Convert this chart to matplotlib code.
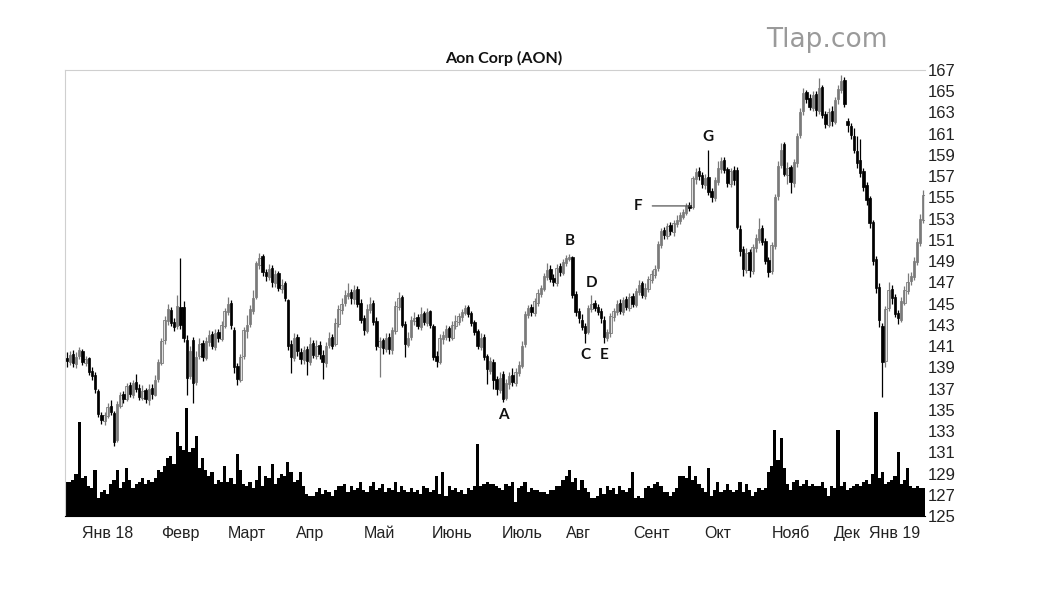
import numpy as np
import matplotlib
matplotlib.use('Agg')
import matplotlib.pyplot as plt

plt.rcParams['font.family'] = ['Liberation Sans', 'DejaVu Sans']

# daily AON prices, mid-Dec 2017 .. mid-Jan 2019
opens = [
    139.9, 139.5, 140.3, 139.3, 140.1, 140.5, 139.4, 139.9, 138.7, 138.3,
    136.8, 134.5, 133.9, 134.4, 135.4, 134.7, 132.2, 135.4, 136.5, 136.0,
    137.3, 136.4, 137.6, 137.1, 136.1, 136.9, 135.9, 137.1, 136.4, 137.9,
    139.4, 141.6, 143.4, 144.4, 143.3, 142.9, 144.7, 144.7, 141.6, 138.2,
    141.6, 137.6, 140.1, 141.3, 139.9, 141.4, 142.1, 140.9, 142.3, 141.7,
    142.9, 144.2, 145.1, 142.5, 139.1, 137.8, 140.1, 142.4, 143.1, 144.3,
    145.6, 148.6, 149.5, 148.0, 147.5, 148.4, 146.9, 147.9, 146.4, 146.9,
    145.3, 141.2, 139.9, 141.9, 140.4, 139.7, 140.7, 139.5, 141.3, 140.1,
    141.1, 140.2, 139.4, 141.1, 141.9, 141.2, 143.1, 144.4, 145.1, 145.7,
    146.1, 145.4, 146.4, 145.1, 143.6, 142.4, 144.4, 145.1, 143.4, 140.9,
    141.6, 140.7, 141.9, 140.6, 142.4, 144.7, 145.6, 143.1, 141.1, 141.9,
    143.4, 143.7, 142.8, 144.1, 143.2, 144.3, 142.9, 140.1, 139.5, 141.7,
    141.9, 142.7, 141.8, 142.9, 143.3, 143.7, 144.1, 144.7, 144.1, 143.3,
    142.4, 140.9, 141.9, 140.1, 138.7, 139.5, 137.9, 136.9, 138.4, 136.1,
    137.4, 138.3, 137.5, 138.5, 139.1, 141.2, 143.9, 144.7, 144.1, 145.1,
    145.9, 146.4, 147.5, 148.3, 147.4, 146.9, 148.5, 147.9, 148.8, 149.2,
    149.4, 145.9, 144.3, 143.5, 142.9, 142.3, 144.5, 145.1, 144.7, 144.3,
    143.5, 141.8, 142.2, 143.7, 144.2, 145.1, 144.2, 145.4, 144.6, 145.7,
    144.9, 146.1, 146.9, 145.7, 146.4, 147.2, 147.7, 148.4, 150.5, 151.9,
    151.4, 152.4, 151.7, 152.5, 152.8, 153.2, 153.5, 154.3, 154.1, 156.7,
    157.5, 157.1, 156.2, 156.9, 155.6, 154.9, 156.5, 157.7, 158.5, 157.7,
    156.3, 157.6, 157.6, 152.0, 150.1, 148.2, 149.9, 148.1, 150.2, 151.0,
    152.1, 150.9, 149.1, 148.1, 150.4, 155.1, 158.1, 160.0, 157.1, 157.9,
    156.4, 158.2, 160.9, 163.1, 164.9, 164.4, 163.4, 164.7, 163.1, 165.4,
    162.9, 161.8, 163.1, 162.1, 164.3, 165.1, 166.1, 162.2, 161.7, 160.8,
    159.4, 158.5, 157.5, 156.2, 154.9, 152.7, 149.2, 146.6, 142.9, 139.6,
    144.6, 146.4, 145.6, 144.1, 143.5, 145.1, 146.2, 147.1, 147.5, 148.9,
    150.7, 152.9,
]
highs = [
    140.4, 140.5, 140.6, 140.4, 140.9, 140.7, 140.1, 140.0, 139.0, 138.6,
    137.0, 134.8, 134.8, 135.6, 135.9, 134.9, 135.8, 136.7, 136.8, 137.5,
    137.6, 137.8, 138.4, 137.4, 137.3, 137.1, 137.4, 137.4, 138.3, 139.8,
    141.8, 143.8, 145.0, 144.7, 143.6, 145.8, 149.3, 145.2, 142.0, 141.0,
    141.9, 140.5, 141.8, 141.6, 141.9, 142.5, 142.4, 142.6, 142.6, 143.4,
    144.6, 145.6, 145.3, 142.8, 139.4, 140.3, 142.8, 143.9, 144.9, 146.3,
    149.0, 149.8, 149.7, 148.3, 148.7, 148.6, 148.2, 148.1, 147.3, 147.1,
    145.4, 141.6, 142.2, 142.1, 140.8, 141.0, 141.0, 141.9, 141.6, 141.6,
    141.5, 140.6, 141.4, 142.3, 142.1, 143.6, 144.9, 145.5, 146.3, 146.9,
    146.4, 146.8, 146.7, 145.4, 143.9, 145.0, 145.6, 145.3, 143.7, 141.9,
    141.8, 142.2, 142.2, 142.8, 145.2, 146.1, 145.8, 143.4, 142.3, 143.8,
    144.2, 144.0, 144.7, 144.3, 144.6, 144.4, 143.1, 140.5, 142.1, 142.4,
    143.0, 142.9, 143.4, 143.9, 144.1, 144.5, 144.9, 144.9, 144.3, 143.5,
    142.6, 142.2, 142.1, 140.3, 140.0, 139.8, 138.2, 138.6, 138.7, 137.9,
    138.6, 138.9, 138.9, 139.6, 141.5, 144.3, 144.9, 145.0, 145.5, 146.4,
    146.8, 147.9, 148.8, 148.6, 147.8, 148.7, 148.8, 149.2, 149.6, 149.7,
    149.5, 146.2, 144.6, 144.0, 143.2, 144.9, 145.8, 145.3, 145.0, 144.6,
    143.8, 142.6, 144.1, 144.6, 145.3, 145.4, 145.6, 145.7, 146.0, 146.0,
    146.5, 147.2, 147.1, 146.9, 147.6, 148.2, 148.6, 150.9, 152.1, 152.2,
    152.6, 152.7, 152.9, 153.3, 153.6, 153.9, 154.5, 154.6, 157.0, 157.8,
    157.9, 157.4, 157.2, 159.5, 155.9, 156.9, 158.4, 158.8, 158.8, 157.9,
    157.8, 158.0, 157.9, 152.4, 150.4, 150.2, 150.1, 150.6, 151.6, 153.1,
    152.4, 151.2, 149.4, 150.8, 155.3, 158.4, 160.1, 160.2, 158.3, 158.1,
    158.6, 161.1, 163.4, 165.3, 165.1, 164.7, 165.0, 165.0, 166.2, 165.6,
    163.1, 163.4, 163.6, 164.5, 165.6, 166.5, 166.3, 162.5, 162.0, 161.5,
    160.8, 160.5, 157.8, 156.5, 155.1, 152.9, 149.5, 146.9, 143.2, 144.8,
    147.0, 146.8, 145.9, 144.4, 145.6, 146.7, 147.9, 148.0, 149.4, 151.2,
    153.4, 155.7,
]
lows = [
    139.0, 139.2, 139.0, 138.9, 139.8, 139.2, 139.1, 138.3, 137.8, 136.6,
    134.3, 133.7, 133.6, 134.2, 134.5, 131.6, 132.0, 135.2, 135.6, 135.8,
    136.2, 136.1, 136.7, 135.9, 135.9, 135.6, 135.5, 136.0, 136.3, 137.6,
    139.2, 141.2, 143.0, 142.9, 142.4, 142.6, 142.6, 141.4, 136.4, 137.9,
    135.6, 137.3, 139.8, 139.6, 139.7, 141.0, 140.7, 140.6, 141.4, 141.5,
    142.7, 143.9, 142.6, 138.5, 137.3, 137.6, 139.8, 141.8, 142.8, 144.0,
    145.4, 148.3, 147.6, 147.1, 147.2, 146.6, 146.6, 146.2, 146.0, 145.2,
    140.6, 138.5, 139.6, 140.1, 139.3, 139.3, 138.3, 139.2, 139.9, 139.8,
    139.8, 137.9, 139.0, 140.8, 140.7, 141.0, 142.8, 144.0, 144.8, 145.4,
    145.0, 145.0, 144.7, 143.2, 142.0, 142.2, 144.1, 143.0, 140.6, 138.1,
    140.3, 140.4, 140.3, 140.3, 142.1, 144.4, 142.8, 140.0, 140.9, 141.6,
    143.0, 142.6, 142.5, 143.0, 142.9, 142.7, 139.7, 139.0, 139.3, 141.2,
    141.6, 141.5, 141.6, 142.6, 143.0, 143.4, 143.9, 143.7, 142.9, 142.0,
    140.7, 140.6, 139.7, 137.4, 138.4, 137.0, 136.4, 136.6, 135.7, 135.9,
    137.0, 137.2, 137.2, 138.2, 138.9, 140.9, 143.6, 143.8, 143.8, 144.8,
    145.6, 146.2, 147.2, 147.0, 146.7, 146.7, 147.6, 147.7, 148.5, 149.0,
    145.5, 143.8, 143.2, 142.5, 141.3, 142.1, 144.2, 144.3, 143.9, 143.2,
    141.3, 141.5, 141.9, 143.4, 143.9, 144.0, 143.9, 144.4, 144.3, 144.7,
    144.7, 145.8, 145.5, 145.4, 146.1, 146.9, 147.4, 148.1, 150.2, 151.1,
    151.1, 151.5, 151.4, 152.2, 152.5, 153.0, 153.3, 153.7, 153.9, 156.3,
    156.6, 155.9, 155.8, 155.2, 154.6, 154.7, 156.2, 157.3, 157.3, 156.0,
    156.0, 156.2, 152.0, 149.5, 147.6, 147.9, 147.5, 147.8, 149.9, 150.7,
    150.5, 148.7, 147.5, 147.8, 150.1, 154.8, 157.8, 157.0, 156.3, 155.4,
    156.0, 157.9, 160.6, 162.8, 163.9, 163.2, 163.1, 162.7, 162.9, 162.5,
    161.5, 161.6, 161.7, 161.9, 163.8, 164.8, 163.5, 161.2, 160.5, 159.2,
    157.8, 156.9, 155.6, 154.3, 152.1, 148.6, 146.0, 142.8, 136.2, 139.0,
    144.3, 145.0, 143.7, 143.1, 143.3, 144.9, 145.9, 146.8, 147.2, 148.6,
    150.4, 152.6,
]
closes = [
    139.6, 140.2, 139.4, 140.0, 140.6, 139.5, 139.8, 138.6, 138.2, 137.0,
    134.6, 134.0, 134.5, 135.3, 134.8, 132.0, 135.5, 136.4, 136.0, 137.2,
    136.5, 137.5, 137.0, 136.2, 136.8, 136.0, 137.0, 136.5, 137.8, 139.5,
    141.5, 143.5, 144.5, 143.2, 142.8, 144.8, 143.0, 141.8, 138.0, 140.5,
    137.5, 140.0, 141.2, 140.0, 141.5, 142.0, 141.0, 142.2, 141.8, 143.0,
    144.3, 145.0, 143.0, 139.0, 137.9, 140.0, 142.5, 143.0, 144.5, 145.5,
    148.8, 149.3, 148.0, 147.6, 148.3, 147.0, 147.8, 146.5, 146.8, 145.5,
    141.0, 140.0, 141.8, 140.5, 139.8, 140.6, 139.6, 141.2, 140.2, 141.0,
    140.3, 139.5, 141.0, 141.8, 141.0, 143.2, 144.5, 145.0, 145.8, 146.0,
    145.5, 146.3, 145.0, 143.5, 142.5, 144.5, 145.0, 143.3, 141.0, 141.5,
    140.8, 141.8, 140.7, 142.5, 144.8, 145.5, 143.0, 141.2, 141.8, 143.5,
    143.6, 142.9, 144.0, 143.3, 144.2, 143.0, 140.0, 139.6, 141.8, 142.0,
    142.6, 141.9, 143.0, 143.4, 143.8, 144.2, 144.6, 144.0, 143.2, 142.3,
    141.0, 141.8, 140.0, 138.8, 139.6, 137.8, 137.0, 138.0, 136.0, 137.5,
    138.2, 137.6, 138.6, 139.2, 141.0, 144.0, 144.6, 144.2, 145.2, 146.0,
    146.5, 147.6, 148.2, 147.3, 147.0, 148.4, 148.0, 148.9, 149.3, 149.4,
    145.8, 144.2, 143.6, 142.8, 142.2, 144.6, 145.0, 144.6, 144.2, 143.6,
    141.9, 142.3, 143.8, 144.3, 145.0, 144.3, 145.3, 144.7, 145.6, 145.0,
    146.2, 146.8, 145.8, 146.5, 147.3, 147.8, 148.3, 150.6, 151.8, 151.5,
    152.3, 151.8, 152.6, 152.9, 153.3, 153.6, 154.2, 154.0, 156.8, 157.4,
    157.0, 156.3, 156.8, 155.5, 155.0, 156.6, 157.8, 158.4, 157.6, 156.4,
    157.5, 156.6, 152.2, 150.0, 148.3, 149.8, 148.2, 150.3, 151.2, 152.0,
    150.8, 149.0, 148.0, 150.5, 155.0, 158.0, 159.5, 157.2, 157.8, 156.5,
    158.3, 160.8, 163.0, 164.8, 164.3, 163.5, 164.6, 163.2, 165.3, 162.8,
    161.9, 163.0, 162.2, 164.2, 165.2, 166.0, 163.8, 161.8, 160.9, 159.5,
    158.2, 157.3, 156.0, 154.8, 152.6, 149.0, 146.5, 143.5, 139.5, 144.5,
    146.3, 145.5, 144.0, 143.6, 145.2, 146.3, 147.0, 147.6, 149.0, 150.8,
    153.0, 155.2,
]
# volume, millions of shares
volume = [
    1.7, 1.7, 1.8, 2.1, 4.7, 1.9, 2.0, 1.5, 1.4, 2.3,
    0.9, 1.2, 1.3, 1.1, 1.6, 1.8, 2.3, 1.4, 1.7, 2.4,
    1.8, 1.4, 1.6, 1.7, 1.9, 1.6, 1.8, 1.7, 1.9, 2.3,
    2.2, 2.5, 2.9, 3.0, 2.6, 4.2, 3.5, 3.3, 5.4, 3.2,
    3.4, 4.0, 2.4, 2.9, 2.3, 2.0, 2.2, 1.6, 1.8, 1.7,
    2.5, 1.7, 1.9, 1.6, 3.1, 2.3, 1.6, 1.5, 1.7, 1.4,
    1.8, 2.5, 1.5, 2.0, 1.9, 2.6, 1.6, 1.9, 2.1, 2.0,
    2.7, 2.2, 1.7, 1.8, 2.2, 1.5, 1.1, 1.0, 1.0, 1.2,
    1.4, 1.1, 1.3, 1.2, 1.0, 1.3, 1.5, 1.5, 1.6, 1.2,
    1.5, 1.3, 1.4, 1.7, 1.3, 1.2, 1.5, 1.7, 1.3, 1.4,
    1.6, 1.2, 1.4, 1.3, 1.7, 1.2, 1.5, 1.3, 1.2, 1.4,
    1.2, 1.3, 1.1, 1.5, 1.4, 1.2, 1.3, 2.0, 1.1, 2.2,
    1.0, 1.5, 1.3, 1.4, 1.2, 1.3, 1.1, 1.4, 1.3, 1.5,
    3.6, 1.5, 1.6, 1.7, 1.6, 1.6, 1.5, 1.4, 1.3, 1.6,
    1.5, 1.7, 0.7, 1.4, 1.5, 1.7, 1.2, 1.4, 1.3, 1.3,
    1.2, 1.2, 1.1, 1.3, 1.3, 1.5, 1.5, 1.8, 2.0, 2.3,
    1.7, 1.9, 1.3, 1.8, 1.4, 1.2, 0.9, 0.9, 1.0, 1.4,
    1.1, 1.5, 1.3, 1.4, 1.1, 1.5, 1.3, 1.2, 1.4, 2.2,
    0.9, 1.0, 0.9, 1.4, 1.5, 1.4, 1.6, 1.7, 1.5, 1.2,
    1.2, 1.0, 1.2, 1.4, 2.0, 2.0, 1.9, 2.5, 1.8, 2.0,
    1.6, 1.4, 1.2, 2.4, 1.0, 1.3, 1.7, 1.2, 1.3, 1.6,
    1.3, 1.2, 1.3, 1.7, 1.2, 1.6, 1.3, 1.0, 1.2, 1.4,
    1.3, 1.4, 2.2, 2.5, 4.3, 2.8, 3.9, 2.4, 1.6, 1.3,
    1.7, 1.8, 1.5, 1.6, 1.8, 1.5, 1.6, 1.5, 1.5, 1.7,
    1.4, 1.0, 1.5, 1.4, 4.3, 1.5, 1.7, 1.3, 1.4, 1.5,
    1.6, 1.5, 1.7, 1.8, 1.6, 2.1, 5.2, 1.9, 2.2, 1.6,
    1.7, 1.8, 2.0, 3.2, 1.6, 1.8, 2.4, 1.5, 1.4, 1.5,
    1.4, 1.4,
]

month_labels = ['Янв 18', 'Февр', 'Март', 'Апр', 'Май', 'Июнь', 'Июль',
                'Авг', 'Сент', 'Окт', 'Нояб', 'Дек', 'Янв 19']
month_pos = [13, 36, 57, 77, 99, 122, 144, 162, 185, 206, 229, 247, 262]
price_ticks = list(range(125, 168, 2))

# letter, candle index, side of the candle
marks = [('A', 138, 'low'), ('B', 159, 'high'), ('C', 164, 'low'),
         ('D', 166, 'high'), ('E', 170, 'low'), ('G', 203, 'high')]

o = np.array(opens)
h = np.array(highs)
l = np.array(lows)
c = np.array(closes)
x = np.arange(len(c))
up = c >= o

fig = plt.figure(figsize=(10.37, 6.0), dpi=100)
rect = [65 / 1037, 84 / 600, 860 / 1037, 446 / 600]

# volume sits underneath, on its own scale
vax = fig.add_axes(rect)
vax.bar(x, volume, width=1.0, color='black', linewidth=0)
vax.set_ylim(0, 22.3)
vax.set_xlim(-0.5, len(c) - 0.5)
vax.axis('off')

ax = fig.add_axes(rect, sharex=vax)
ax.patch.set_alpha(0)

wick_col = np.where(up, '#7a7a7a', '#000000')
ax.vlines(x, l, h, colors=wick_col, linewidth=0.9)
body_low = np.minimum(o, c)
body_h = np.maximum(np.abs(c - o), 0.12)
ax.bar(x[up], body_h[up], bottom=body_low[up], width=0.75,
       facecolor='#f2f2f2', edgecolor='#8a8a8a', linewidth=0.7)
ax.bar(x[~up], body_h[~up], bottom=body_low[~up], width=0.75,
       facecolor='black', edgecolor='black', linewidth=0.5)

ax.set_xlim(-0.5, len(c) - 0.5)
ax.set_ylim(125, 167)

ax.yaxis.tick_right()
ax.set_yticks(price_ticks)
ax.tick_params(axis='y', length=0, pad=2, labelsize=12, colors='#222222')
ax.set_xticks(month_pos, month_labels)
ax.tick_params(axis='x', length=0, pad=7, labelsize=11.5, colors='#222222')

for side in ['top', 'left']:
    ax.spines[side].set_color('#cfcfcf')
    ax.spines[side].set_linewidth(0.8)
ax.spines['right'].set_visible(False)
ax.spines['bottom'].set_color('black')

for letter, i, side in marks:
    if side == 'low':
        ax.annotate(letter, (i, lows[i]), xytext=(0, -4), textcoords='offset points',
                    ha='center', va='top', fontsize=11, fontweight='bold',
                    family='Lato', color='#111111')
    else:
        ax.annotate(letter, (i, highs[i]), xytext=(0, 4), textcoords='offset points',
                    ha='center', va='bottom', fontsize=11, fontweight='bold',
                    family='Lato', color='#111111')

# F points at the close of the candle with a short horizontal line
ax.annotate('F', (197.5, closes[196]), xytext=(-38, 0), textcoords='offset points',
            ha='center', va='center', fontsize=11, fontweight='bold',
            family='Lato', color='#111111',
            arrowprops=dict(arrowstyle='-', color='#555555', lw=0.9,
                            shrinkA=5, shrinkB=0))

fig.text(504 / 1037, 1 - 58 / 600, 'Aon Corp (AON)', ha='center', va='center',
         fontsize=11.5, fontweight='bold', family='Lato', color='#111111')
fig.text(827 / 1037, 1 - 40 / 600, 'Tlap.com', ha='center', va='center',
         fontsize=19, family='DejaVu Sans', color='#9a9a9a')

fig.savefig('out.png', dpi=100, facecolor='white')
